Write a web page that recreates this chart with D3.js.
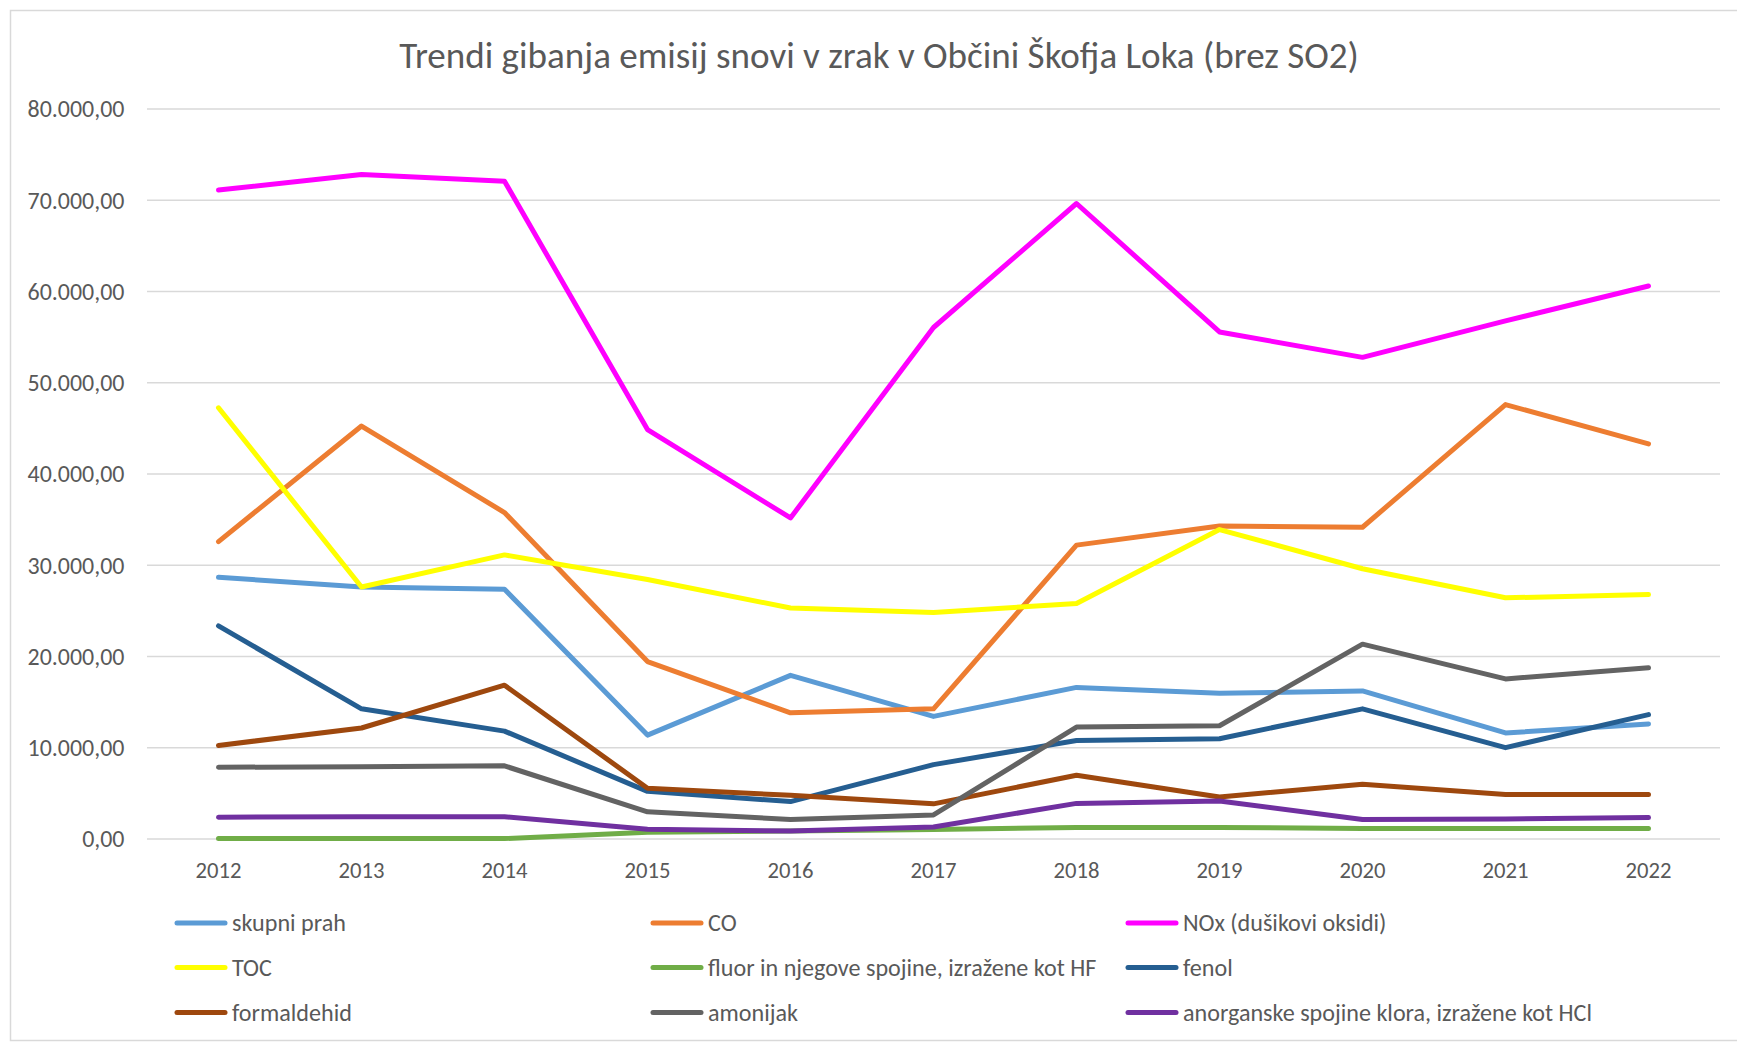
<!DOCTYPE html>
<html>
<head>
<meta charset="utf-8">
<script src="https://cdn.jsdelivr.net/npm/d3@7"></script>
<style>
  html, body { margin: 0; padding: 0; background: #fff; }
  svg { display: block; }
  text { font-family: Carlito, Calibri, Lato, "Open Sans", sans-serif; fill: #595959; }
</style>
</head>
<body>
<svg id="chart" width="1737" height="1043"></svg>
<script>
const chartTitle = "Trendi gibanja emisij snovi v zrak v Občini Škofja Loka (brez SO2)";
const years = ["2012","2013","2014","2015","2016","2017","2018","2019","2020","2021","2022"];
const yTicks = [0,10000,20000,30000,40000,50000,60000,70000,80000];

const seriesNames = [
  "skupni prah", "CO", "NOx (dušikovi oksidi)",
  "TOC", "fluor in njegove spojine, izražene kot HF", "fenol",
  "formaldehid", "amonijak", "anorganske spojine klora, izražene kot HCl"
];
const seriesColors = ["#5B9BD5","#ED7D31","#FF00FF","#FFFF00","#70AD47","#255E91","#9E480E","#636363","#7030A0"];

const skupniPrah  = [28640,27570,27320,11340,17890,13390,16570,15930,16180,11580,12560];
const co          = [32550,45210,35730,19400,13780,14220,32160,34260,34120,47560,43260];
const nox         = [71070,72780,72040,44820,35140,56010,69600,55520,52740,56740,60560];
const toc         = [47210,27570,31090,28400,25270,24780,25760,33870,29570,26390,26740];
const fluor       = [0,0,0,700,830,1000,1220,1220,1120,1120,1120];
const fenol       = [23310,14220,11780,5180,4060,8110,10750,10950,14220,9970,13590];
const formaldehid = [10210,12120,16810,5520,4740,3810,6940,4550,5960,4840,4840];
const amonijak    = [7820,7870,7970,2930,2100,2590,12220,12370,21310,17500,18720];
const hcl         = [2350,2390,2390,1030,830,1270,3860,4110,2100,2150,2300];

const seriesValues = [skupniPrah, co, nox, toc, fluor, fenol, formaldehid, amonijak, hcl];

const svg = d3.select("#chart");

function fitSize(str, target) {
  const t = svg.append("text").attr("font-size", 100).text(str);
  const w = t.node().getComputedTextLength();
  t.remove();
  return 100 * target / w;
}

svg.append("rect")
  .attr("x", 10.5).attr("y", 10.5)
  .attr("width", 1740).attr("height", 1030)
  .attr("fill", "#fff").attr("stroke", "#d9d9d9").attr("stroke-width", 1.5);

const plotLeft = 147, plotRight = 1720, plotTop = 108.6, plotBottom = 838.6;

const x = d3.scaleBand().domain(years).range([plotLeft, plotRight]).padding(0);
const xc = d => x(d) + x.bandwidth() / 2;
const y = d3.scaleLinear().domain([0, 80000]).range([plotBottom, plotTop]);

const loc = d3.formatLocale({decimal: ",", thousands: ".", grouping: [3], currency: ["", "€"]});
const fmt = loc.format(",.2f");

svg.append("g")
  .attr("transform", `translate(${plotLeft},0)`)
  .call(d3.axisLeft(y).tickValues(yTicks).tickSize(-(plotRight - plotLeft)).tickFormat(""))
  .call(g => g.select(".domain").remove())
  .call(g => g.selectAll("line").attr("stroke", "#d9d9d9").attr("stroke-width", 1.5));

const ySize = fitSize(fmt(80000), 97);
svg.append("g")
  .attr("transform", `translate(124.5,0)`)
  .call(d3.axisLeft(y).tickValues(yTicks).tickSize(0).tickPadding(0).tickFormat(fmt))
  .call(g => g.select(".domain").remove())
  .call(g => g.selectAll("text")
      .attr("font-size", ySize)
      .attr("font-family", null)
      .attr("fill", "#595959")
      .attr("dy", "0.35em"));

const xSize = fitSize("2012", 46);
svg.append("g")
  .attr("transform", `translate(0,${plotBottom})`)
  .call(d3.axisBottom(x).tickSize(0).tickPadding(0))
  .call(g => g.select(".domain").remove())
  .call(g => g.selectAll("text")
      .attr("font-size", xSize)
      .attr("font-family", null)
      .attr("fill", "#595959")
      .attr("y", 39.5).attr("dy", 0));

const line = d3.line().x((d, i) => xc(years[i])).y(d => y(d));
seriesValues.forEach((vals, i) => {
  svg.append("path")
    .datum(vals)
    .attr("d", line)
    .attr("fill", "none")
    .attr("stroke", seriesColors[i])
    .attr("stroke-width", 5)
    .attr("stroke-linejoin", "round")
    .attr("stroke-linecap", "round");
});

const tSize = fitSize(chartTitle, 960);
svg.append("text")
  .attr("x", 879).attr("y", 67.5)
  .attr("text-anchor", "middle")
  .attr("font-size", tSize)
  .text(chartTitle);

const lSize = fitSize(seriesNames[8], 409);
const legCols = [175, 651, 1126];
const legRows = [923, 967.5, 1012.5];
seriesNames.forEach((name, i) => {
  const cx = legCols[i % 3], cy = legRows[Math.floor(i / 3)];
  const g = svg.append("g").attr("transform", `translate(${cx},${cy})`);
  g.append("line")
    .attr("x1", 2).attr("x2", 50).attr("y1", 0).attr("y2", 0)
    .attr("stroke", seriesColors[i]).attr("stroke-width", 5)
    .attr("stroke-linecap", "round");
  g.append("text")
    .attr("x", 57).attr("y", 0).attr("dy", "0.35em")
    .attr("font-size", lSize)
    .text(name);
});
</script>
</body>
</html>
